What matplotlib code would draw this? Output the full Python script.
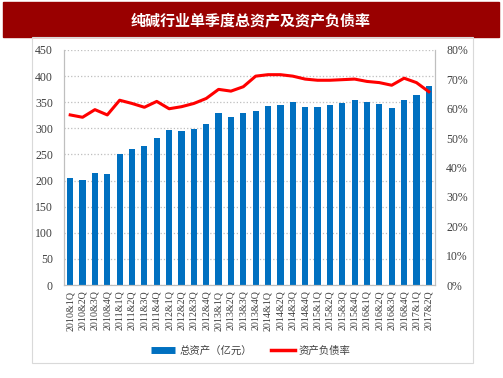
import numpy as np
import matplotlib
matplotlib.use("Agg")
import matplotlib.pyplot as plt
from matplotlib.patches import Rectangle
from matplotlib.lines import Line2D

plt.rcParams['font.family'] = ['Liberation Serif', 'Noto Sans CJK SC']

# 数据
quarters = ['2010&1Q', '2010&2Q', '2010&3Q', '2010&4Q',
            '2011&1Q', '2011&2Q', '2011&3Q', '2011&4Q',
            '2012&1Q', '2012&2Q', '2012&3Q', '2012&4Q',
            '2013&1Q', '2013&2Q', '2013&3Q', '2013&4Q',
            '2014&1Q', '2014&2Q', '2014&3Q', '2014&4Q',
            '2015&1Q', '2015&2Q', '2015&3Q', '2015&4Q',
            '2016&1Q', '2016&2Q', '2016&3Q', '2016&4Q',
            '2017&1Q', '2017&2Q']
total_assets = [204, 201, 214, 212, 250, 261, 267, 281, 297, 294,
                298, 309, 329, 322, 330, 334, 343, 345, 351, 341,
                340, 345, 348, 354, 350, 347, 338, 354, 364, 382]
debt_ratio = [57.9, 57.1, 59.7, 57.9, 62.9, 61.8, 60.5, 62.5, 60.0, 60.7,
              61.8, 63.5, 66.6, 66.0, 67.5, 71.1, 71.6, 71.6, 71.1, 70.1,
              69.7, 69.7, 69.9, 70.1, 69.3, 68.9, 68.0, 70.4, 68.9, 65.8]

title = '纯碱行业单季度总资产及资产负债率'
bar_label = '总资产（亿元）'
line_label = '资产负债率'

W, H = 503, 378
fig = plt.figure(figsize=(W / 100, H / 100), dpi=100)

# 标题栏
fig.patches.append(Rectangle((3 / W, 1 - 37 / H), 496 / W, 35 / H,
                             transform=fig.transFigure, color='#990000', zorder=0))
fig.text(251 / W, 1 - 20 / H, title, color='white', fontsize=10.8, fontweight='bold',
         ha='center', va='center', family=['Noto Sans CJK SC'])

# 外框
fig.patches.append(Rectangle((32 / W, 1 - 363 / H), 441 / W, 326 / H,
                             transform=fig.transFigure, facecolor='none',
                             edgecolor='#D9D9D9', lw=0.8, zorder=0))

ax = fig.add_axes([64 / W, 1 - 285 / H, 371 / W, 235 / H])
x = np.arange(len(quarters))
ax.bar(x, total_assets, width=0.5, color='#0070C0', label=bar_label, zorder=2)
ax.set_xlim(-0.5, len(quarters) - 0.5)
ax.set_ylim(0, 450)
ax.set_yticks(np.arange(0, 451, 50))
ax.set_xticks(x)
ax.set_xticklabels(quarters, rotation=90, fontsize=7.2, color='#404040')
ax.tick_params(axis='x', length=0, pad=4)
ax.tick_params(axis='y', length=0, pad=8, labelsize=8.5, labelcolor='#404040')
ax.grid(axis='y', linestyle=':', color='#BFBFBF', lw=0.9)
ax.set_axisbelow(True)
ax.spines['top'].set_visible(False)
for s in ['left', 'bottom', 'right']:
    ax.spines[s].set_color('#BFBFBF')

ax2 = ax.twinx()
ax2.plot(x, debt_ratio, color='#FF0000', lw=2.2, label=line_label, zorder=3)
ax2.set_ylim(0, 80)
ax2.set_yticks(np.arange(0, 81, 10))
ax2.set_yticklabels([f'{v}%' for v in range(0, 81, 10)])
ax2.tick_params(axis='y', length=0, pad=8, labelsize=8.5, labelcolor='#404040')
ax2.spines['top'].set_visible(False)
for s in ['left', 'bottom', 'right']:
    ax2.spines[s].set_color('#BFBFBF')

# 图例
handles = [Line2D([0], [0], color='#0070C0', lw=5, solid_capstyle='butt'),
           Line2D([0], [0], color='#FF0000', lw=2.5)]
fig.legend(handles, [bar_label, line_label], loc='center', ncol=2,
           bbox_to_anchor=(251 / W, 1 - 351 / H), frameon=False,
           prop={'family': ['Noto Sans CJK SC'], 'size': 7.5},
           labelcolor='#404040', handlelength=2.3, handletextpad=0.4,
           columnspacing=1.8)

fig.savefig('out.png', dpi=100)
